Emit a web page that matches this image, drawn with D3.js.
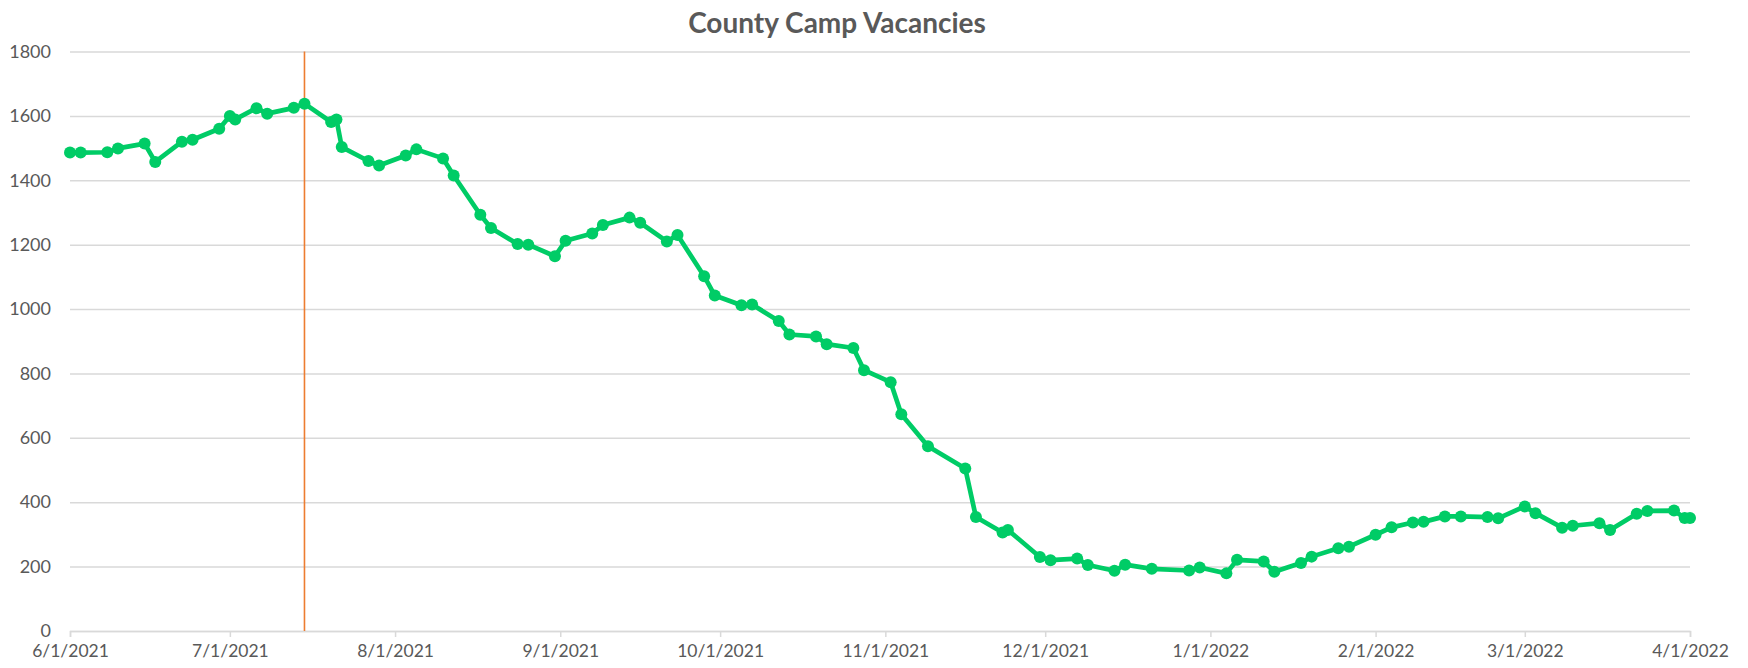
<!DOCTYPE html>
<html>
<head>
<meta charset="utf-8">
<script src="https://cdn.jsdelivr.net/npm/d3@7"></script>
<style>
  html, body { margin: 0; padding: 0; background: #fff; }
  svg { display: block; font-family: Lato, "Open Sans", sans-serif; }
</style>
</head>
<body>
<svg id="chart" width="1748" height="668"></svg>
<script>
// readings
var dates = [
  "2021-06-01","2021-06-03","2021-06-08","2021-06-10","2021-06-15","2021-06-17","2021-06-22","2021-06-24",
  "2021-06-29","2021-07-01","2021-07-02","2021-07-06","2021-07-08","2021-07-13","2021-07-15","2021-07-20",
  "2021-07-21","2021-07-22","2021-07-27","2021-07-29","2021-08-03","2021-08-05","2021-08-10","2021-08-12",
  "2021-08-17","2021-08-19","2021-08-24","2021-08-26","2021-08-31","2021-09-02","2021-09-07","2021-09-09",
  "2021-09-14","2021-09-16","2021-09-21","2021-09-23","2021-09-28","2021-09-30","2021-10-05","2021-10-07",
  "2021-10-12","2021-10-14","2021-10-19","2021-10-21","2021-10-26","2021-10-28","2021-11-02","2021-11-04",
  "2021-11-09","2021-11-16","2021-11-18","2021-11-23","2021-11-24","2021-11-30","2021-12-02","2021-12-07",
  "2021-12-09","2021-12-14","2021-12-16","2021-12-21","2021-12-28","2021-12-30","2022-01-04","2022-01-06",
  "2022-01-11","2022-01-13","2022-01-18","2022-01-20","2022-01-25","2022-01-27","2022-02-01","2022-02-04",
  "2022-02-08","2022-02-10","2022-02-14","2022-02-17","2022-02-22","2022-02-24","2022-03-01","2022-03-03",
  "2022-03-08","2022-03-10","2022-03-15","2022-03-17","2022-03-22","2022-03-24","2022-03-29","2022-03-31",
  "2022-04-01"
];
var vacancies = [
  1486,1486,1487,1499,1514,1457,1520,1526,
  1560,1600,1589,1624,1607,1625,1638,1581,
  1589,1503,1460,1446,1477,1496,1468,1415,
  1293,1252,1202,1200,1164,1212,1235,1261,
  1284,1268,1210,1230,1102,1042,1012,1014,
  963,921,915,891,879,810,773,673,
  574,505,354,306,314,230,220,225,
  205,187,206,193,188,197,179,221,
  216,184,211,231,257,262,299,322,
  337,339,356,356,354,350,387,366,
  321,327,335,314,364,373,374,351,
  351
];
var yTicks = [0, 200, 400, 600, 800, 1000, 1200, 1400, 1600, 1800];
var xTicks = ["2021-06-01","2021-07-01","2021-08-01","2021-09-01","2021-10-01","2021-11-01",
              "2021-12-01","2022-01-01","2022-02-01","2022-03-01","2022-04-01"];
var markerDate = "2021-07-15";
var title = "County Camp Vacancies";

var parse = d3.timeParse("%Y-%m-%d");
var fmt = d3.timeFormat("%-m/%-d/%Y");

var svg = d3.select("#chart"),
    margin = {top: 51.5, right: 58, bottom: 37, left: 70},
    width = +svg.attr("width") - margin.left - margin.right,
    height = +svg.attr("height") - margin.top - margin.bottom,
    g = svg.append("g").attr("transform", "translate(" + margin.left + "," + margin.top + ")");

var data = dates.map(function(d, i) { return {date: parse(d), value: vacancies[i]}; });

var x = d3.scaleTime()
    .domain([parse(xTicks[0]), parse(xTicks[xTicks.length - 1])])
    .range([0, width]);

var y = d3.scaleLinear()
    .domain([0, 1800])
    .range([height, 0]);

// gridlines + y labels
var yAxis = g.append("g")
    .call(d3.axisLeft(y).tickValues(yTicks).tickFormat(d3.format("d")).tickSize(-width).tickPadding(19));
yAxis.select(".domain").remove();
yAxis.selectAll(".tick line").attr("stroke", "#d9d9d9").attr("stroke-width", 1.5);
yAxis.selectAll(".tick text")
    .attr("fill", "#595959")
    .attr("font-size", "18px")
    .attr("font-family", "Lato, 'Open Sans', sans-serif");

// x axis
var xAxis = g.append("g")
    .attr("transform", "translate(0," + height + ")")
    .call(d3.axisBottom(x).tickValues(xTicks.map(parse)).tickFormat(fmt).tickSize(6).tickPadding(8));
xAxis.select(".domain").attr("stroke", "#d9d9d9").attr("stroke-width", 1.5);
xAxis.selectAll(".tick line").attr("stroke", "#d9d9d9").attr("stroke-width", 1.5);
xAxis.selectAll(".tick text")
    .attr("fill", "#595959")
    .attr("font-size", "17.5px")
    .attr("font-family", "Lato, 'Open Sans', sans-serif");

// vertical marker
g.append("line")
    .attr("x1", x(parse(markerDate)))
    .attr("x2", x(parse(markerDate)))
    .attr("y1", y(1800))
    .attr("y2", y(0))
    .attr("stroke", "#ed7d31")
    .attr("stroke-width", 1.6);

var line = d3.line()
    .x(function(d) { return x(d.date); })
    .y(function(d) { return y(d.value); });

g.append("path")
    .datum(data)
    .attr("fill", "none")
    .attr("stroke", "#00cc66")
    .attr("stroke-linejoin", "round")
    .attr("stroke-linecap", "round")
    .attr("stroke-width", 4.7)
    .attr("d", line);

g.selectAll(".dot")
    .data(data)
  .enter().append("circle")
    .attr("class", "dot")
    .attr("cx", function(d) { return x(d.date); })
    .attr("cy", function(d) { return y(d.value); })
    .attr("r", 6)
    .attr("fill", "#00cc66");

svg.append("text")
    .attr("x", 837)
    .attr("y", 33)
    .attr("text-anchor", "middle")
    .attr("fill", "#595959")
    .attr("font-size", "28px")
    .attr("font-weight", "bold")
    .attr("font-family", "Lato, 'Open Sans', sans-serif")
    .text(title);
</script>
</body>
</html>
